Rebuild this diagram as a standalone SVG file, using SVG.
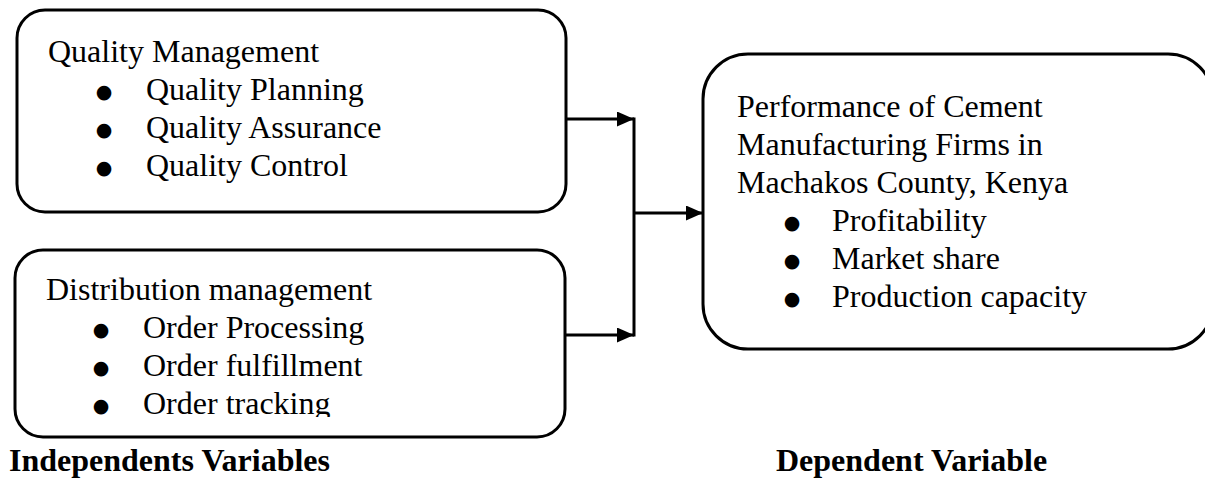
<svg xmlns="http://www.w3.org/2000/svg" width="1205" height="480" viewBox="0 0 1205 480">
<style>
.box{fill:#fff;stroke:#000;stroke-width:3}
.t{font-family:"Liberation Serif","Times New Roman",serif;font-size:32px;fill:#000}
.b{font-family:"DejaVu Sans",sans-serif;font-size:19px;fill:#000;text-anchor:middle}
.lbl{font-family:"Liberation Serif","Times New Roman",serif;font-size:32px;font-weight:bold;fill:#000}
.ln{fill:none;stroke:#000;stroke-width:3}
</style>
<defs>
<marker id="ah" viewBox="0 0 17 15" refX="17" refY="7.5" markerWidth="17" markerHeight="15" markerUnits="userSpaceOnUse" orient="auto">
<path d="M0,0 L17,7.5 L0,15 Z" fill="#000"/>
</marker>
<clipPath id="clip2"><rect x="0" y="240" width="600" height="177"/></clipPath>
</defs>
<rect width="1205" height="480" fill="#fff"/>
<g id="quality">
<rect class="box" x="17" y="10" width="549" height="202" rx="28"/>
<text class="t" x="48" y="62">Quality Management</text>
<text class="b" x="104" y="98">●</text><text class="t" x="146" y="100">Quality Planning</text>
<text class="b" x="104" y="136">●</text><text class="t" x="146" y="138">Quality Assurance</text>
<text class="b" x="104" y="174">●</text><text class="t" x="146" y="176">Quality Control</text>
</g>
<g id="distribution">
<rect class="box" x="15" y="250" width="550" height="187" rx="28"/>
<text class="t" x="46" y="300">Distribution management</text>
<text class="b" x="101" y="336">●</text><text class="t" x="143" y="338">Order Processing</text>
<text class="b" x="101" y="374">●</text><text class="t" x="143" y="376">Order fulfillment</text>
<text class="b" x="101" y="412">●</text><text class="t" x="143" y="414" clip-path="url(#clip2)">Order tracking</text>
</g>
<g id="performance">
<rect class="box" x="703" y="54" width="510" height="295" rx="45"/>
<text class="t" x="737" y="117">Performance of Cement</text>
<text class="t" x="737" y="155">Manufacturing Firms in</text>
<text class="t" x="737" y="193">Machakos County, Kenya</text>
<text class="b" x="792" y="229">●</text><text class="t" x="832" y="231">Profitability</text>
<text class="b" x="792" y="267">●</text><text class="t" x="832" y="269">Market share</text>
<text class="b" x="792" y="305">●</text><text class="t" x="832" y="307">Production capacity</text>
</g>
<g id="connectors">
<line class="ln" x1="566" y1="119" x2="634" y2="119" marker-end="url(#ah)"/>
<line class="ln" x1="565" y1="335" x2="634" y2="335" marker-end="url(#ah)"/>
<line class="ln" x1="634" y1="117.5" x2="634" y2="336.5"/>
<line class="ln" x1="634" y1="213" x2="703" y2="213" marker-end="url(#ah)"/>
</g>
<g id="labels">
<text class="lbl" x="9" y="471">Independents Variables</text>
<text class="lbl" x="776" y="471">Dependent Variable</text>
</g>
</svg>
